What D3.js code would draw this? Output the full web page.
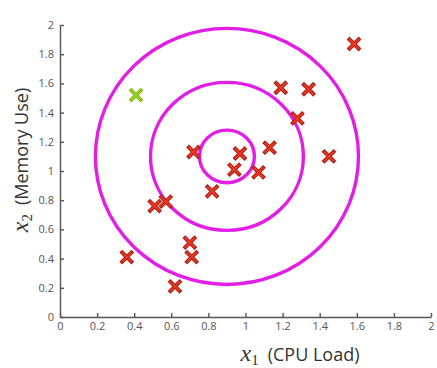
<!DOCTYPE html>
<html>
<head>
<meta charset="utf-8">
<script src="https://cdn.jsdelivr.net/npm/d3@7"></script>
<style>
  body { margin: 0; background: #fff; }
  .axis text { font-family: "Open Sans", sans-serif; font-size: 11px; fill: #555; }
  .axis path, .axis line { stroke: #555; stroke-width: 1.4px; }
</style>
</head>
<body>
<div id="chart-area"></div>
<script>
let margin = {left: 60, right: 6, top: 25, bottom: 51};
let width = 437 - margin.left - margin.right;
let height = 368 - margin.top - margin.bottom;

// data
const cpuLoad = [1.585, 1.19, 1.34, 1.28, 1.45, 1.13, 0.97, 1.07, 0.94, 0.72, 0.82, 0.51, 0.57, 0.36, 0.70, 0.71, 0.62]
const memUse  = [1.87, 1.57, 1.56, 1.36, 1.10, 1.16, 1.12, 0.99, 1.01, 1.13, 0.86, 0.76, 0.79, 0.41, 0.51, 0.41, 0.21]
const anomalyX = [0.41]
const anomalyY = [1.52]

// gaussian contours: centre and radii in data units
const contourCenter = [0.9, 1.1]
const contourRx = [0.148, 0.412, 0.709]
const contourRy = [0.18, 0.507, 0.877]

const xTicks = [0, 0.2, 0.4, 0.6, 0.8, 1, 1.2, 1.4, 1.6, 1.8, 2]
const yTicks = [0, 0.2, 0.4, 0.6, 0.8, 1, 1.2, 1.4, 1.6, 1.8, 2]

let svg = d3.select("#chart-area")
	.append("svg")
	.attr("width", 437)
	.attr("height", 368);

let g = svg.append("g")
	.attr("transform", "translate(" + margin.left + "," + margin.top + ")");

let xVal = d3.scaleLinear().domain([0, 2]).range([0, width]);
let yVal = d3.scaleLinear().domain([0, 2]).range([height, 0]);

let xAxis = d3.axisBottom(xVal)
	.tickValues(xTicks)
	.tickFormat(d3.format("~g"))
	.tickSizeInner(-4)
	.tickSizeOuter(0)
	.tickPadding(5);

g.append("g")
	.attr("class", "x axis")
	.attr("transform", "translate(0," + height + ")")
	.call(xAxis);

let yAxis = d3.axisLeft(yVal)
	.tickValues(yTicks)
	.tickFormat(d3.format("~g"))
	.tickSizeInner(-4)
	.tickSizeOuter(0)
	.tickPadding(6);

g.append("g")
	.attr("class", "y axis")
	.call(yAxis);

// contours
g.append("g")
	.selectAll("ellipse")
	.data(contourRx)
	.enter()
	.append("ellipse")
	.attr("cx", xVal(contourCenter[0]))
	.attr("cy", yVal(contourCenter[1]))
	.attr("rx", d => xVal(d) - xVal(0))
	.attr("ry", (d, i) => yVal(0) - yVal(contourRy[i]))
	.attr("fill", "none")
	.attr("stroke", "#e21ee6")
	.attr("stroke-width", 3.4);

const cross = "M-6,-6L6,6M-6,6L6,-6";

function drawCrosses(xs, ys, dark, light) {
	let grp = g.append("g");
	grp.selectAll("path.edge")
		.data(xs)
		.enter()
		.append("path")
		.attr("class", "edge")
		.attr("d", cross)
		.attr("transform", (d, i) => "translate(" + xVal(d) + "," + yVal(ys[i]) + ")")
		.attr("stroke", dark)
		.attr("stroke-width", 4)
		.attr("fill", "none");
	grp.selectAll("path.core")
		.data(xs)
		.enter()
		.append("path")
		.attr("class", "core")
		.attr("d", "M-5,-5L5,5M-5,5L5,-5")
		.attr("transform", (d, i) => "translate(" + xVal(d) + "," + yVal(ys[i]) + ")")
		.attr("stroke", light)
		.attr("stroke-width", 2)
		.attr("fill", "none");
}

drawCrosses(cpuLoad, memUse, "#a8231a", "#ec3520");
drawCrosses(anomalyX, anomalyY, "#86b81c", "#9ccc2a");

// axis titles
let xLabel = svg.append("text")
	.attr("x", 300)
	.attr("y", 361)
	.attr("text-anchor", "middle")
	.attr("fill", "#333")
	.attr("font-family", "Open Sans, sans-serif")
	.attr("font-size", "18px");
xLabel.append("tspan").attr("font-family", "Liberation Serif, serif").attr("font-style", "italic").attr("font-size", "24px").text("x");
xLabel.append("tspan").attr("font-family", "Liberation Serif, serif").attr("font-size", "15px").attr("dy", 4).text("1");
xLabel.append("tspan").attr("dy", -4).text("\u2002(CPU Load)");

let yLabel = svg.append("text")
	.attr("transform", "translate(28,160) rotate(-90)")
	.attr("text-anchor", "middle")
	.attr("fill", "#333")
	.attr("font-family", "Open Sans, sans-serif")
	.attr("font-size", "18px");
yLabel.append("tspan").attr("font-family", "Liberation Serif, serif").attr("font-style", "italic").attr("font-size", "24px").text("x");
yLabel.append("tspan").attr("font-family", "Liberation Serif, serif").attr("font-size", "15px").attr("dy", 4).text("2");
yLabel.append("tspan").attr("dy", -4).text("\u2002(Memory Use)");
</script>
</body>
</html>
